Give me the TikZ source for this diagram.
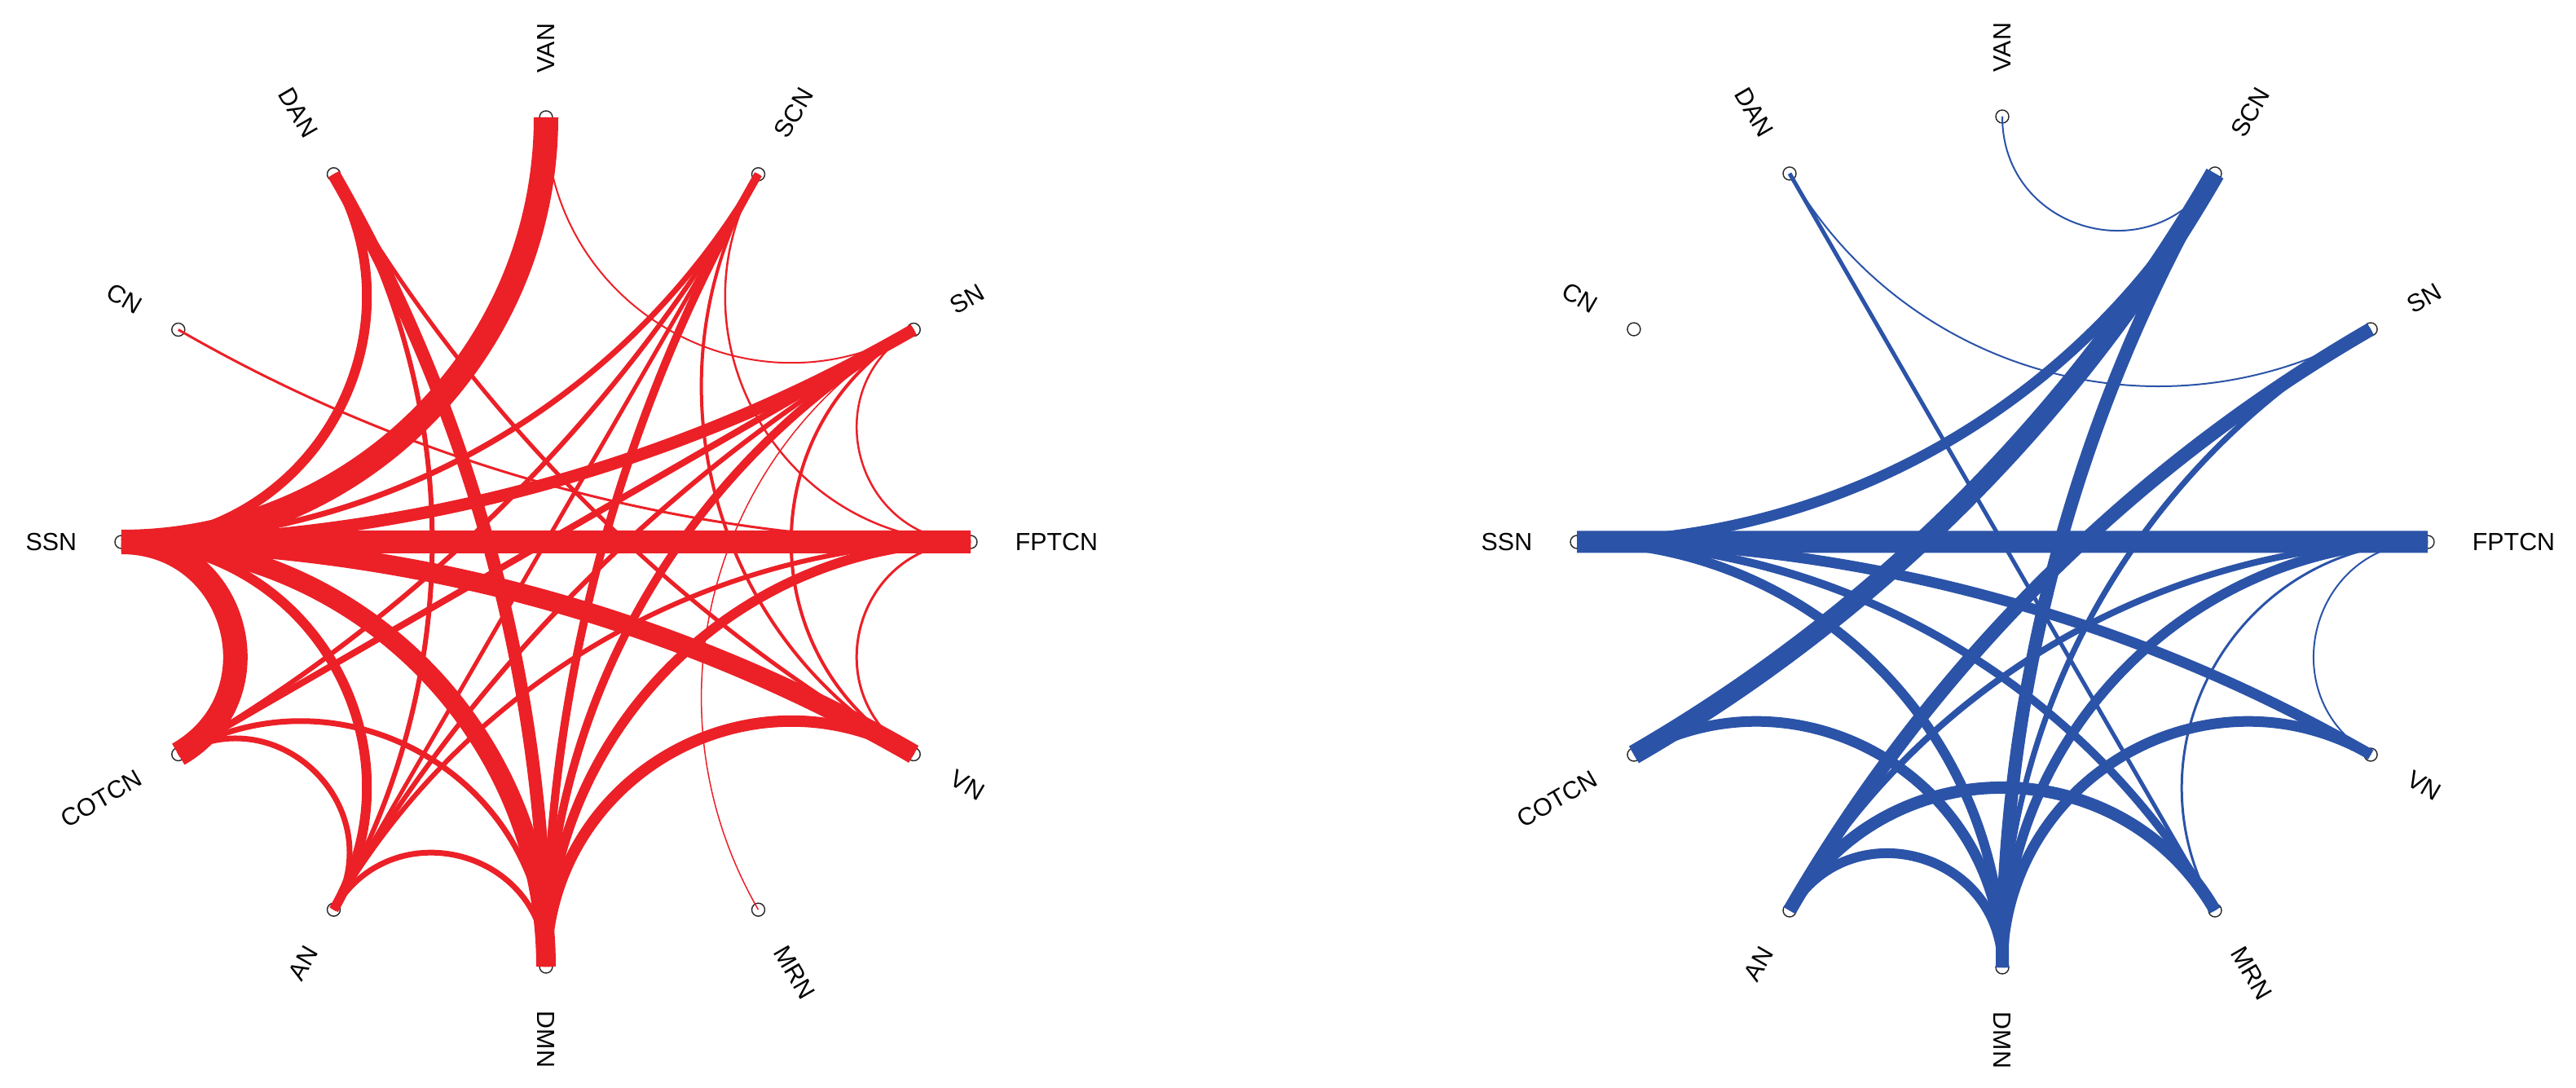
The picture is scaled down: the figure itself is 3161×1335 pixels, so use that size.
\documentclass[tikz,border=0pt]{standalone}
\usepackage{fontspec}
\setmainfont{Liberation Sans}
\usetikzlibrary{calc}
\definecolor{redE}{RGB}{236,32,39}
\definecolor{blueE}{RGB}{43,83,168}
\def\angVAN{90}\def\angSCN{60}\def\angSN{30}\def\angFPTCN{0}
\def\angVN{-30}\def\angMRN{-60}\def\angDMN{-90}\def\angAN{-120}
\def\angCOTCN{-150}\def\angSSN{180}\def\angCN{150}\def\angDAN{120}
\newcommand\geo[4]{%
  \pgfmathsetmacro\gd{abs(mod(\csname ang#2\endcsname-\csname ang#3\endcsname+540,360)-180)}%
  \ifdim\gd pt>179pt\def\gf{0.6667}\else
    \pgfmathsetmacro\gf{(4/3)*tan(45-\gd/4)*tan(\gd/2)}\fi
  \draw[#1edge,line width=#4*0.25pt] (#1#2.center) .. controls ($(#1#2.center)!\gf!(#1O)$) and ($(#1#3.center)!\gf!(#1O)$) .. (#1#3.center);
}
\tikzset{
  Ledge/.style={redE},
  Redge/.style={blueE},
  netnode/.style={circle,draw=black!85,line width=0.35pt,minimum size=4pt,inner sep=0pt},
  lab/.style={font=\fontsize{7.6}{9}\selectfont,inner sep=0pt,text=black}
}
\begin{document}
\begin{tikzpicture}[x=0.25pt,y=-0.25pt]
\fill[white] (0,0) rectangle (3161,1335);
\useasboundingbox (0,0) rectangle (3161,1335);
\coordinate (LO) at (670,665);
\coordinate (RO) at (2457,665);
\foreach \n/\a in {VAN/90,SCN/60,SN/30,FPTCN/0,VN/-30,MRN/-60,DMN/-90,AN/-120,COTCN/-150,SSN/180,CN/150,DAN/120}{
  \node[netnode] (L\n) at ({670+521*cos(\a)},{665-521*sin(\a)}) {};
  \node[netnode] (R\n) at ({2457+522*cos(\a)},{665-522*sin(\a)}) {};
}
\foreach \n/\a in {VAN/90,SCN/60,SN/30,FPTCN/0,VN/-30,MRN/-60,DMN/-90}{
  \node[lab,rotate=\a,anchor=west] (L\n-t) at ({670+575*cos(\a)},{665-575*sin(\a)}) {\n};
  \node[lab,rotate=\a,anchor=west] (R\n-t) at ({2457+576*cos(\a)},{665-576*sin(\a)}) {\n};
}
\foreach \n/\a in {AN/240,COTCN/210,SSN/180,CN/150,DAN/120}{
  \node[lab,rotate=\a-180,anchor=east] (L\n-t) at ({670+575*cos(\a)},{665-575*sin(\a)}) {\n};
  \node[lab,rotate=\a-180,anchor=east] (R\n-t) at ({2457+576*cos(\a)},{665-576*sin(\a)}) {\n};
}
% red network
\foreach \p/\q/\w in {SN/MRN/1.5,VAN/SN/2,SCN/FPTCN/2.5,SN/FPTCN/2.5,CN/FPTCN/3,FPTCN/VN/3,
  SN/VN/4,SCN/VN/4,DAN/VN/5,SCN/AN/5,SN/AN/6,DAN/AN/6,SCN/COTCN/6,FPTCN/AN/6,
  COTCN/DMN/7,COTCN/AN/7,AN/DMN/7,SSN/SCN/7,SN/COTCN/8,SN/DMN/10,SCN/DMN/10,FPTCN/DMN/12,SSN/AN/12,
  SSN/DAN/12,SSN/SN/15,VN/DMN/14,DAN/DMN/16,SSN/VN/24,SSN/DMN/24,SSN/FPTCN/28,SSN/COTCN/30,VAN/SSN/30}
  {\geo{L}{\p}{\q}{\w}}
% blue network
\foreach \p/\q/\w in {VAN/SCN/2,DAN/SN/2,FPTCN/VN/2,FPTCN/MRN/3,DAN/MRN/5,SN/DMN/7,AN/FPTCN/8,
  SSN/MRN/10,FPTCN/DMN/12,AN/DMN/12,SSN/DMN/12,SCN/SSN/13,COTCN/DMN/13,DMN/VN/13,SSN/VN/13,
  AN/MRN/15,SCN/DMN/16,SN/AN/17,SCN/COTCN/24,SSN/FPTCN/27}
  {\geo{R}{\p}{\q}{\w}}
\end{tikzpicture}
\end{document}
